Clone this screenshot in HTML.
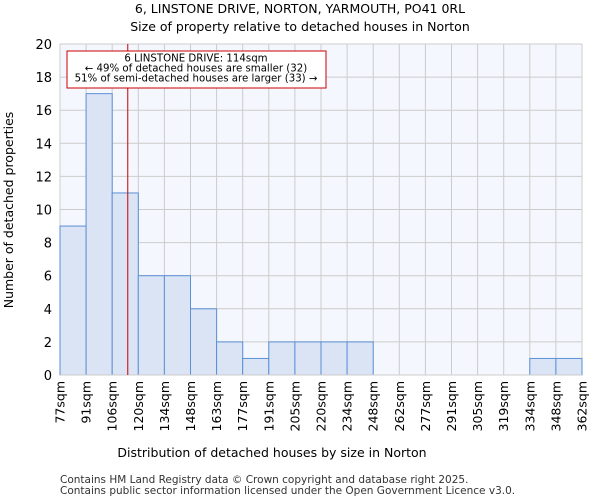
<!DOCTYPE html>
<html><head><meta charset="utf-8"><style>
body{margin:0;background:#fff;font-family:"DejaVu Sans","Liberation Sans",sans-serif;}
</style></head><body>
<svg width="600" height="500" xmlns="http://www.w3.org/2000/svg" font-family="DejaVu Sans, Liberation Sans, sans-serif">
<text x="300" y="13" text-anchor="middle" font-size="12.5">6, LINSTONE DRIVE, NORTON, YARMOUTH, PO41 0RL</text>
<text x="300" y="31" text-anchor="middle" font-size="12.5">Size of property relative to detached houses in Norton</text>
<rect x="60" y="44" width="522" height="331" fill="#f4f7fd"/>
<g id="grid"></g><g id="bars"></g><g id="axes"></g>
<text x="272" y="457" text-anchor="middle" font-size="12.5">Distribution of detached houses by size in Norton</text>
<text transform="translate(13,210) rotate(-90)" text-anchor="middle" font-size="12.5">Number of detached properties</text>
<text x="60" y="483" font-size="10.5" fill="#333">Contains HM Land Registry data © Crown copyright and database right 2025.</text>
<text x="60" y="494" font-size="10.5" fill="#333">Contains public sector information licensed under the Open Government Licence v3.0.</text>
<g id="annot"></g>
</svg>
<script>
const edgeLabels=["77sqm","91sqm","106sqm","120sqm","134sqm","148sqm","163sqm","177sqm","191sqm","205sqm","220sqm","234sqm","248sqm","262sqm","277sqm","291sqm","305sqm","319sqm","334sqm","348sqm","362sqm"];
const counts=[9,17,11,6,6,4,2,1,2,2,2,2,0,0,0,0,0,0,1,1];
const yTicks=[0,2,4,6,8,10,12,14,16,18,20];
const propertySize=114;
const minSize=77, maxSize=362;
const NS="http://www.w3.org/2000/svg";
const L=60,R=582,T=44,B=375,YMAX=20;
const bw=(R-L)/counts.length;
const xi=i=>L+i*bw;
const y=v=>B-(v/YMAX)*(B-T);
const xv=v=>L+(v-minSize)/(maxSize-minSize)*(R-L);
function mk(tag,attrs,parent){const e=document.createElementNS(NS,tag);for(const k in attrs)e.setAttribute(k,attrs[k]);document.getElementById(parent).appendChild(e);return e;}
yTicks.forEach(t=>{
 const g=mk('line',{x1:L,x2:R,y1:y(t),y2:y(t),stroke:'#cccccc','stroke-width':1},'grid');
 
 
 const tx=mk('text',{x:L-8,y:y(t)+5,'text-anchor':'end','font-size':13},'axes');
 tx.textContent=t;
 
 
});
edgeLabels.forEach((lab,i)=>{
 const g=mk('line',{x1:xi(i),x2:xi(i),y1:T,y2:B,stroke:'#cccccc','stroke-width':1},'grid');
 
 
 const tx=mk('text',{transform:`translate(${xi(i)+4.5},${B+6}) rotate(-90)`,'text-anchor':'end','font-size':12.5},'axes');
 tx.textContent=lab;
 
 
});
counts.forEach((c,i)=>{
 if(c<=0)return;
 const r=mk('rect',{x:xi(i),y:y(c),width:bw,height:B-y(c),fill:'#dae4f4',stroke:'#5b8fd6','stroke-width':1},'bars');
 
 
});
const ax=mk('line',{x1:L,x2:R,y1:B,y2:B,stroke:'#cccccc'},'axes');


const px=xv(propertySize);
const ml=mk('line',{x1:px,x2:px,y1:T,y2:B,stroke:'#cc0000','stroke-width':1},'annot');


const box=mk('rect',{x:67,y:51,width:259,height:37,fill:'#fff',stroke:'#cc0000','stroke-width':1},'annot');


["6 LINSTONE DRIVE: 114sqm","← 49% of detached houses are smaller (32)","51% of semi-detached houses are larger (33) →"].forEach((s,i)=>{
 const t=mk('text',{x:196,y:61.5+i*10,'text-anchor':'middle','font-size':10.2},'annot');
 t.textContent=s;
 
 
});
</script>
</body></html>
